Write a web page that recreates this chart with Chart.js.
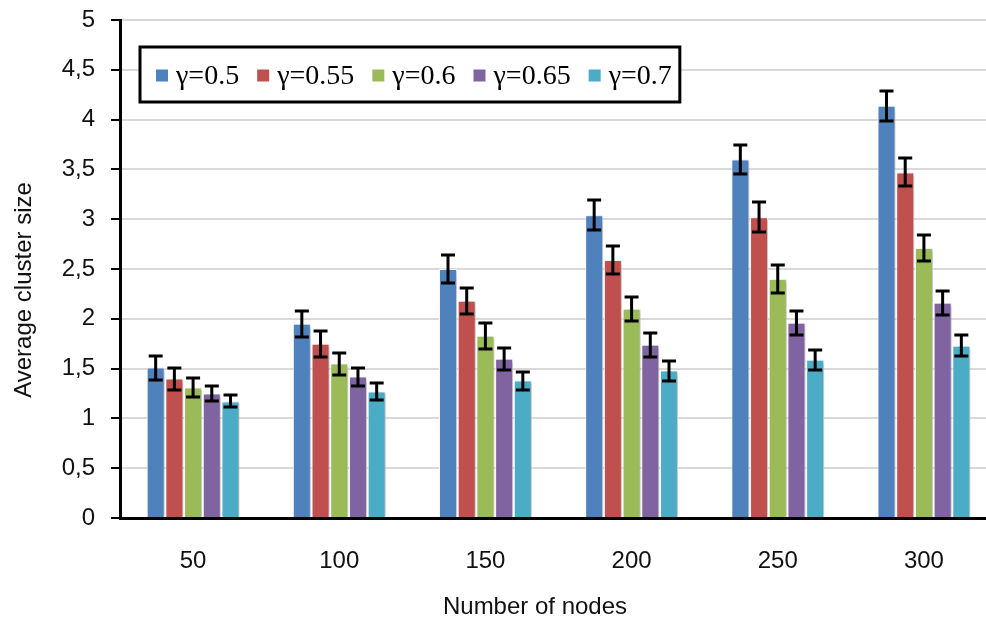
<!DOCTYPE html>
<html>
<head>
<meta charset="utf-8">
<script src="https://cdn.jsdelivr.net/npm/chart.js@4.4.1/dist/chart.umd.min.js"></script>
<style>
  html, body { margin: 0; padding: 0; background: #fff; overflow: hidden; }
  #wrap { width: 1000px; height: 627px; position: relative; }
</style>
</head>
<body>
<div id="wrap"><canvas id="grafico"></canvas></div>
<script>
const nos = ['50', '100', '150', '200', '250', '300'];
const rotulosY = ['0', '0,5', '1', '1,5', '2', '2,5', '3', '3,5', '4', '4,5', '5'];

const gama050 = [1.51, 1.95, 2.50, 3.04, 3.60, 4.14];
const gama055 = [1.40, 1.75, 2.18, 2.59, 3.02, 3.47];
const gama060 = [1.31, 1.55, 1.83, 2.10, 2.40, 2.71];
const gama065 = [1.25, 1.42, 1.60, 1.74, 1.96, 2.16];
const gama070 = [1.17, 1.27, 1.38, 1.48, 1.59, 1.73];

// meia-altura das barras de erro
const erro050 = [0.12, 0.13, 0.14, 0.15, 0.15, 0.15];
const erro055 = [0.11, 0.13, 0.13, 0.14, 0.15, 0.14];
const erro060 = [0.10, 0.11, 0.13, 0.12, 0.14, 0.13];
const erro065 = [0.08, 0.09, 0.11, 0.12, 0.12, 0.12];
const erro070 = [0.06, 0.09, 0.09, 0.10, 0.10, 0.105];

const nomes = ['γ=0.5', 'γ=0.55', 'γ=0.6', 'γ=0.65', 'γ=0.7'];
const cores = ['#4F81BD', '#C0504D', '#9BBB59', '#8064A2', '#4BACC6'];
const series = [gama050, gama055, gama060, gama065, gama070];
const erros = [erro050, erro055, erro060, erro065, erro070];

const tituloX = 'Number of nodes';
const tituloY = 'Average cluster size';

const fonteEixo = "'Liberation Sans', Arial, sans-serif";

const barrasPlugin = {
    id: 'barras',
    beforeDatasetsDraw(chart) {
        const c = chart.ctx;
        c.save();
        c.shadowColor = 'rgba(0,0,0,0.28)';
        c.shadowBlur = 4;
        c.shadowOffsetX = 2;
        c.shadowOffsetY = 1;
    },
    afterDatasetsDraw(chart) {
        const c = chart.ctx;
        c.restore();
        const y = chart.scales.y;
        c.save();
        c.strokeStyle = '#000';
        c.lineWidth = 3;
        chart.data.datasets.forEach((ds, i) => {
            const meta = chart.getDatasetMeta(i);
            meta.data.forEach((bar, j) => {
                const v = ds.data[j];
                const e = ds.erro[j];
                const x = bar.x;
                const yt = Math.round(y.getPixelForValue(v + e));
                const yb = Math.round(y.getPixelForValue(v - e));
                c.beginPath();
                c.moveTo(x, yt); c.lineTo(x, yb);
                c.moveTo(x - 7, yt); c.lineTo(x + 7, yt);
                c.moveTo(x - 7, yb); c.lineTo(x + 7, yb);
                c.stroke();
            });
        });
        c.restore();
    },
    afterDraw(chart) {
        const c = chart.ctx;
        const area = chart.chartArea;

        // títulos dos eixos
        c.save();
        c.fillStyle = '#111';
        c.font = "24px " + fonteEixo;
        c.textAlign = 'center';
        c.textBaseline = 'middle';
        c.fillText(tituloX, 535, 607);
        c.translate(24, 290);
        c.rotate(-Math.PI / 2);
        c.fillText(tituloY, 0, 0);
        c.restore();

        // legenda com moldura
        const esq = area.left + 20, topo = area.top + 27, alt = 55;
        c.save();
        c.font = "28px 'Liberation Serif', 'Times New Roman', serif";
        let x = esq + 16;
        const itens = [];
        chart.data.datasets.forEach((ds) => {
            const w = c.measureText(ds.label).width;
            itens.push({ x: x, w: w, cor: ds.backgroundColor, label: ds.label });
            x += 12 + 8 + w + 18;
        });
        const dir = x - 18 + 8;
        c.fillStyle = '#fff';
        c.fillRect(esq, topo, dir - esq, alt);
        c.strokeStyle = '#000';
        c.lineWidth = 3;
        c.strokeRect(esq, topo, dir - esq, alt);
        const meio = topo + alt / 2 + 1;
        itens.forEach(it => {
            c.fillStyle = it.cor;
            c.fillRect(it.x, meio - 6, 12, 12);
            c.fillStyle = '#000';
            c.textBaseline = 'middle';
            c.fillText(it.label, it.x + 20, meio + 1);
        });
        c.restore();
    }
};

const ctx = document.getElementById('grafico');

let chart = new Chart(ctx, {
    type: 'bar',
    data: {
        labels: nos,
        datasets: series.map((s, i) => ({
            label: nomes[i],
            data: s,
            erro: erros[i],
            backgroundColor: cores[i],
            borderColor: '#ffffff',
            borderWidth: 1,
            barPercentage: 0.96,
            categoryPercentage: 0.64
        }))
    },
    options: {
        responsive: true,
        maintainAspectRatio: false,
        animation: false,
        layout: { padding: { left: 0, right: 3, top: 20, bottom: 0 } },
        plugins: {
            legend: { display: false },
            tooltip: { enabled: false }
        },
        scales: {
            x: {
                grid: { display: false, drawTicks: false },
                border: { color: '#000', width: 3 },
                ticks: { color: '#111', padding: 29, font: { family: fonteEixo, size: 24 } },
                afterFit(scale) { scale.height = 109; scale.paddingLeft = 0; scale.paddingRight = 0; }
            },
            y: {
                min: 0,
                max: 5,
                ticks: {
                    stepSize: 0.5,
                    color: '#111',
                    padding: 16,
                    font: { family: fonteEixo, size: 24 },
                    callback: (v, i) => rotulosY[i]
                },
                grid: { color: '#d9d9d9', lineWidth: 2, tickColor: '#000', tickLength: 9, tickWidth: 2 },
                border: { color: '#000', width: 3 },
                afterFit(scale) { scale.width = 120; scale.paddingTop = 0; scale.paddingBottom = 0; }
            }
        }
    },
    plugins: [barrasPlugin]
});
</script>
</body>
</html>
